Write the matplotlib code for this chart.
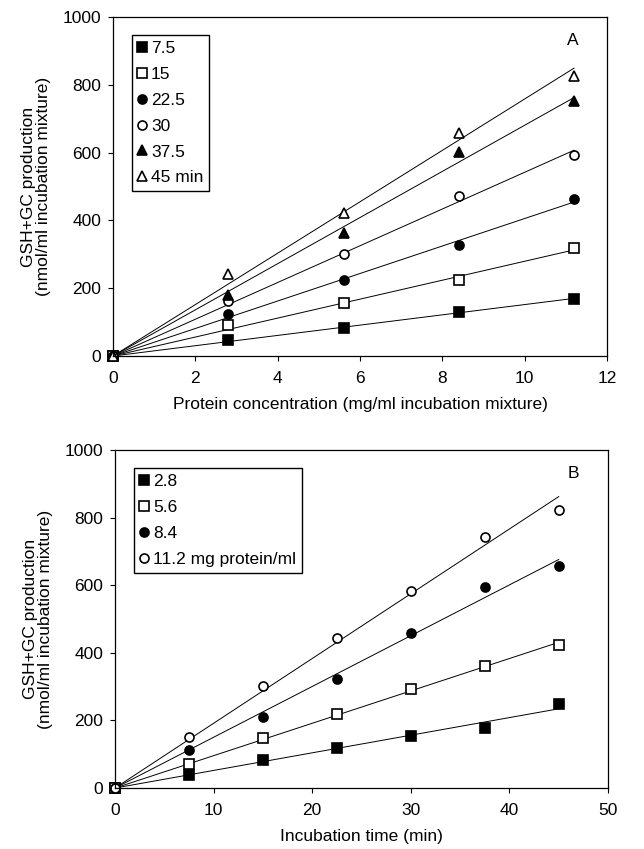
import numpy as np
import matplotlib.pyplot as plt

plt.rcParams["font.family"] = ["Liberation Sans", "DejaVu Sans"]
plt.rcParams["font.size"] = 12.5

# --- panel A: production vs protein concentration, one series per incubation time
protein_conc = [2.8, 5.6, 8.4, 11.2]
time_labels = ["7.5", "15", "22.5", "30", "37.5", "45 min"]
prod_vs_protein = [
    [47, 82, 129, 169],
    [90, 156, 223, 319],
    [124, 225, 328, 462],
    [161, 301, 471, 594],
    [180, 363, 601, 752],
    [243, 422, 659, 826],
]

# --- panel B: production vs incubation time, one series per protein concentration
incubation_time = [7.5, 15, 22.5, 30, 37.5, 45]
protein_labels = ["2.8", "5.6", "8.4", "11.2 mg protein/ml"]
prod_vs_time = [
    [40, 82, 118, 154, 179, 248],
    [72, 148, 220, 292, 360, 424],
    [114, 210, 322, 460, 595, 657],
    [151, 302, 445, 583, 743, 824],
]

marker_styles = [
    ("s", "black"),
    ("s", "white"),
    ("o", "black"),
    ("o", "white"),
    ("^", "black"),
    ("^", "white"),
]


def slope_through_origin(x, y):
    x = np.asarray(x, float)
    y = np.asarray(y, float)
    return (x * y).sum() / (x * x).sum()


def draw_panel(ax, x, series, labels, xmax, xstep, xlabel, tag):
    x = np.asarray(x, float)
    for i, (y, lab) in enumerate(zip(series, labels)):
        m, face = marker_styles[i]
        k = slope_through_origin(x, y)
        xf = np.array([0, x[-1]])
        ax.plot(xf, k * xf, color="black", linewidth=0.7)
        ax.plot(np.r_[0, x], np.r_[0, y], linestyle="none", marker=m,
                markersize=6.5, markerfacecolor=face, markeredgecolor="black",
                markeredgewidth=1.2, label=lab, clip_on=False)

    ax.set_xlim(0, xmax)
    ax.set_ylim(0, 1000)
    ax.set_xticks(np.arange(0, xmax + 0.1, xstep))
    ax.set_yticks(np.arange(0, 1001, 200))
    ax.tick_params(direction="out", length=3.5, width=0.8, pad=5,
                   labelsize=12.5)
    ax.tick_params(axis="x", pad=7)
    for s in ax.spines.values():
        s.set_linewidth(0.9)
    ax.set_xlabel(xlabel, fontsize=12.5, labelpad=8)
    ax.set_ylabel("GSH+GC production\n(nmol/ml incubation mixture)",
                  fontsize=12.5, labelpad=8, linespacing=1.0)
    ax.text(0.93, 0.93, tag, transform=ax.transAxes, fontsize=12.5,
            ha="center", va="center")

    ax.legend(loc="upper left", bbox_to_anchor=(0.038, 0.948),
              frameon=True, fancybox=False, edgecolor="black",
              framealpha=1, handlelength=0.45, handletextpad=0.3,
              borderpad=0.35, labelspacing=0.62, fontsize=12.5,
              borderaxespad=0)


fig = plt.figure(figsize=(6.44, 8.49), dpi=100)
ax_a = fig.add_axes([0.1755, 0.5807, 0.767, 0.3993])
ax_b = fig.add_axes([0.1786, 0.0718, 0.7655, 0.398])

draw_panel(ax_a, protein_conc, prod_vs_protein, time_labels, 12, 2,
           "Protein concentration (mg/ml incubation mixture)", "A")
draw_panel(ax_b, incubation_time, prod_vs_time, protein_labels, 50, 10,
           "Incubation time (min)", "B")

fig.savefig("out.png", dpi=100)
